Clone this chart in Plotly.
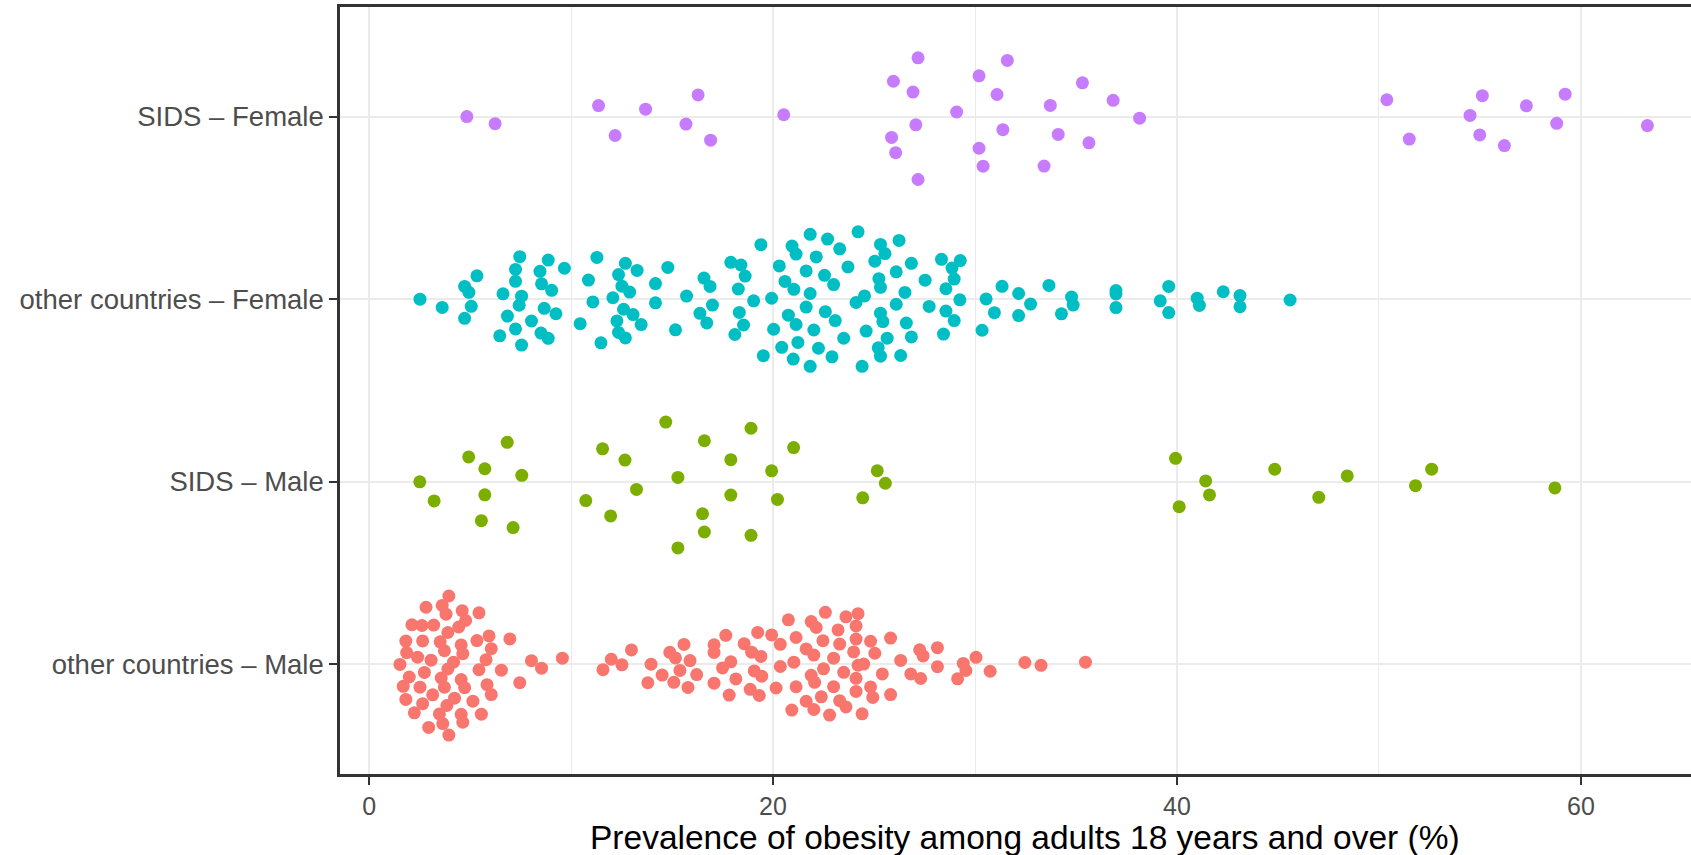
import numpy as np
import plotly.graph_objects as go

# ---- data (prevalence of obesity, %) ----
categories = ["other countries \u2013 Male", "SIDS \u2013 Male",
              "other countries \u2013 Female", "SIDS \u2013 Female"]
colors = ["#F8766D", "#7CAE00", "#00BFC4", "#C77CFF"]

other_male = [1.53, 1.82, 1.86, 1.69, 1.99, 1.82, 2.12, 2.24, 2.52, 2.4, 2.65, 2.62, 2.82, 2.74, 2.65,
              2.95, 3.07, 3.2, 3.15, 3.52, 3.62, 3.48, 3.57, 3.73, 3.73, 3.81, 3.95, 3.9, 3.9, 3.85,
              3.65, 3.95, 4.23, 4.18, 4.56, 4.56, 4.64, 4.64, 4.56, 4.61, 4.73, 4.78, 4.44, 5.14, 5.56,
              5.44, 5.84, 5.44, 5.94, 6.05, 5.34, 5.79, 6.05, 6.55, 6.97, 7.46, 8.04, 8.54, 9.57,
              11.58, 11.99, 12.52, 12.99, 13.8, 13.96, 14.51, 14.89, 15.09, 15.17, 15.39, 15.59, 15.79,
              15.89, 16.22, 17.08, 17.08, 17.08, 17.5, 17.66, 17.83, 17.91, 18.16, 18.57, 18.87, 18.94,
              19.07, 19.32, 19.24, 19.4, 19.44, 19.93, 20.15, 20.36, 20.36, 20.76, 20.93, 21.03, 21.14,
              21.14, 21.64, 21.89, 22.02, 22.02, 21.89, 21.64, 22.06, 22.39, 22.14, 22.47,
              22.5, 22.8, 22.59, 23.0, 23.0, 23.22, 23.3, 23.3, 23.5, 23.61, 23.61, 24.11, 24.21, 24.11,
              24.21, 24.11, 24.11, 23.99, 24.41, 24.49, 24.83, 24.83, 24.94, 25.04, 25.41, 25.82, 25.82,
              26.32, 26.82, 27.31, 27.26, 27.43, 28.14, 28.14, 29.14, 29.42, 29.55, 30.05, 30.75, 32.47,
              33.27, 35.47]

sids_male = [2.51, 3.22, 4.93, 5.73, 5.73, 5.56, 6.84, 7.56, 7.13, 10.73, 11.56, 11.96, 12.67, 13.24,
             14.69, 15.29, 15.29, 16.51, 16.6, 16.6, 17.91, 17.91, 18.91, 18.91, 19.93, 20.22, 21.02,
             24.44, 25.16, 25.56, 39.93, 40.11, 41.42, 41.61, 44.84, 47.02, 48.43, 51.81, 52.61, 58.71]

other_female = [2.52, 3.62, 4.73, 4.94, 5.06, 4.73, 5.34, 6.63, 6.47, 6.85, 7.25, 7.43, 7.25, 7.25,
                7.55, 7.46, 7.55, 8.46, 8.51, 8.87, 9.04, 8.67, 8.04, 9.25, 8.54, 8.87, 9.67, 10.45,
                10.86, 11.08, 11.28, 11.48, 12.07, 12.35, 12.69, 12.52, 12.9, 13.27, 12.6, 13.07, 12.27,
                12.35, 12.69, 13.47, 14.18, 14.18, 14.79, 15.17, 15.72, 16.58, 16.88, 16.38, 17.0, 16.72,
                17.91, 18.41, 18.62, 18.28, 18.33, 18.54, 18.11, 19.04, 19.4, 19.52, 19.93, 20.03, 20.31,
                20.59, 21.0, 20.94, 21.14, 20.76, 21.14, 20.43, 21.23, 21.03, 21.84, 22.14, 21.64, 21.84,
                21.64, 22.02, 22.25, 21.84, 22.55, 22.7, 22.59, 22.92, 23.0, 23.3, 23.08, 23.5, 23.71,
                24.11, 24.21, 24.53, 24.41, 24.61, 25.04, 25.32, 25.54, 25.21, 25.32, 25.32, 25.44, 25.65,
                25.24, 25.32, 26.1, 26.24, 26.53, 26.1, 26.6, 26.85, 26.32, 26.85, 27.53, 27.73, 28.34,
                29.27, 28.86, 28.97, 28.56, 29.25, 28.56, 28.97, 28.44, 30.55, 30.96, 30.35, 31.34, 32.16,
                32.16, 32.75, 33.66, 34.78, 34.86, 34.28, 36.98, 36.98, 36.98, 39.17, 39.59, 39.59, 41.0,
                41.11, 42.29, 43.12, 43.12, 45.6]

sids_female = [4.84, 6.24, 11.36, 12.18, 13.69, 15.69, 16.29, 16.91, 20.53, 25.87, 25.96, 26.07, 26.93,
               27.07, 27.18, 27.18, 29.09, 30.2, 30.2, 30.4, 31.09, 31.38, 31.6, 33.42, 33.73, 34.12,
               35.32, 35.64, 36.84, 38.15, 50.39, 51.5, 54.51, 54.99, 55.12, 56.21, 57.3, 58.8, 59.22,
               63.29]

groups = [other_male, sids_male, other_female, sids_female]

x_ticks = [0, 20, 40, 60]
x_title = "Prevalence of obesity among adults 18 years and over (%)"


# ---- quasirandom (van der Corput) beeswarm offsets, as in ggbeeswarm ----
def bw_nrd0(x):
    x = np.asarray(x, float)
    hi = np.std(x, ddof=1)
    q75, q25 = np.percentile(x, [75, 25])
    lo = min(hi, (q75 - q25) / 1.34)
    if lo <= 0:
        lo = hi if hi > 0 else 1.0
    return 0.9 * lo * len(x) ** (-0.2)


def radical_inverse(i, base=2):
    f, r = 1.0, 0.0
    while i > 0:
        f /= base
        r += f * (i % base)
        i //= base
    return r


def quasirandom_offsets(x, width=0.4, adjust=0.5):
    x = np.asarray(x, float)
    bw = bw_nrd0(x) * adjust
    grid = np.linspace(x.min() - 3 * bw, x.max() + 3 * bw, 1024)
    dens = np.exp(-0.5 * ((grid[:, None] - x[None, :]) / bw) ** 2).sum(axis=1)
    dens /= dens.max()
    pdens = np.interp(x, grid, dens)
    order = np.argsort(x, kind="stable")
    ranks = np.empty(len(x), int)
    ranks[order] = np.arange(1, len(x) + 1)
    vdc = np.array([radical_inverse(r) for r in ranks])
    return (vdc - 0.5) * 2 * pdens * width


fig = go.Figure()
for i, (vals, col) in enumerate(zip(groups, colors)):
    off = quasirandom_offsets(vals)
    fig.add_trace(go.Scatter(
        x=vals, y=(i + 1) + off, mode="markers",
        marker=dict(color=col, size=13, line=dict(width=0)),
        name=categories[i], showlegend=False, hoverinfo="x"))

font_family = "Liberation Sans, Arial, sans-serif"
fig.update_layout(
    width=1691, height=855,
    margin=dict(l=340, r=0, t=7, b=81),
    paper_bgcolor="white", plot_bgcolor="white",
    font=dict(family=font_family, color="#4D4D4D"),
    xaxis=dict(
        range=[-1.44, 65.45], tickvals=x_ticks, ticktext=[str(v) for v in x_ticks],
        showgrid=True, gridcolor="#EBEBEB", gridwidth=2,
        minor=dict(tick0=0, dtick=10, showgrid=True, gridcolor="#EBEBEB", gridwidth=1, ticklen=0),
        zeroline=False, showline=True, linecolor="#333333", linewidth=2.5, mirror=True,
        ticks="outside", ticklen=8, tickwidth=2, tickcolor="#333333",
        tickfont=dict(size=25, color="#4D4D4D", family=font_family),
    ),
    yaxis=dict(
        range=[0.4, 4.6], tickvals=[1, 2, 3, 4], ticktext=categories,
        showgrid=True, gridcolor="#EBEBEB", gridwidth=2,
        zeroline=False, showline=True, linecolor="#333333", linewidth=2.5, mirror=False,
        ticks="outside", ticklen=8, tickwidth=2, tickcolor="#333333",
        tickfont=dict(size=27.5, color="#4D4D4D", family=font_family),
        ticklabelstandoff=0,
    ),
    annotations=[dict(
        text=x_title, xref="paper", yref="paper",
        x=(1024.5 - 340) / (1691 - 340), y=-(837 - 774) / 767.0,
        xanchor="center", yanchor="middle", showarrow=False,
        font=dict(size=33.5, color="black", family=font_family))],
)

fig.write_html("out.html", config={"displayModeBar": False},
               post_script="document.body.style.margin='0';document.body.style.overflow='hidden';")
